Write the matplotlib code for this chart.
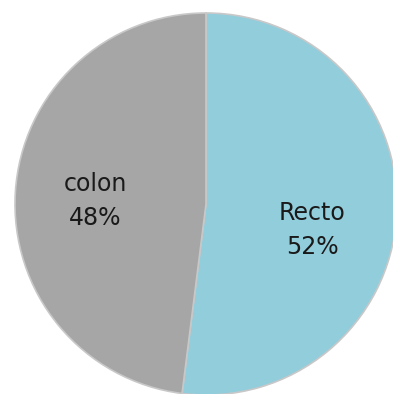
import matplotlib
matplotlib.use("Agg")
import matplotlib.pyplot as plt

labels = ["Recto", "colon"]
values = [52, 48]
colors = ["#92CDDC", "#A6A6A6"]
label_pos = [(0.555, -0.135), (-0.58, 0.015)]

W, H = 393, 394
cx, cy, r = 206, 204, 191

fig = plt.figure(figsize=(W / 100, H / 100), dpi=100)
ax = fig.add_axes([0, 0, 1, 1])

wedges, _ = ax.pie(
    values, colors=colors, startangle=90, counterclock=False,
    radius=1.0, wedgeprops=dict(edgecolor="#C8C8C8", linewidth=1.2),
)
# pie() resets the view, so pin the limits afterwards
ax.set_xlim(-cx / r, (W - cx) / r)
ax.set_ylim(-(H - cy) / r, cy / r)
ax.set_aspect("equal", adjustable="box")
ax.axis("off")

total = sum(values)
for (x, y), lab, v in zip(label_pos, labels, values):
    ax.text(x, y, f"{lab}\n{round(100 * v / total)}%", ha="center", va="center",
            fontsize=17, linespacing=1.5, color="#1a1a1a", family="DejaVu Sans")

fig.savefig("out.png", dpi=100)
